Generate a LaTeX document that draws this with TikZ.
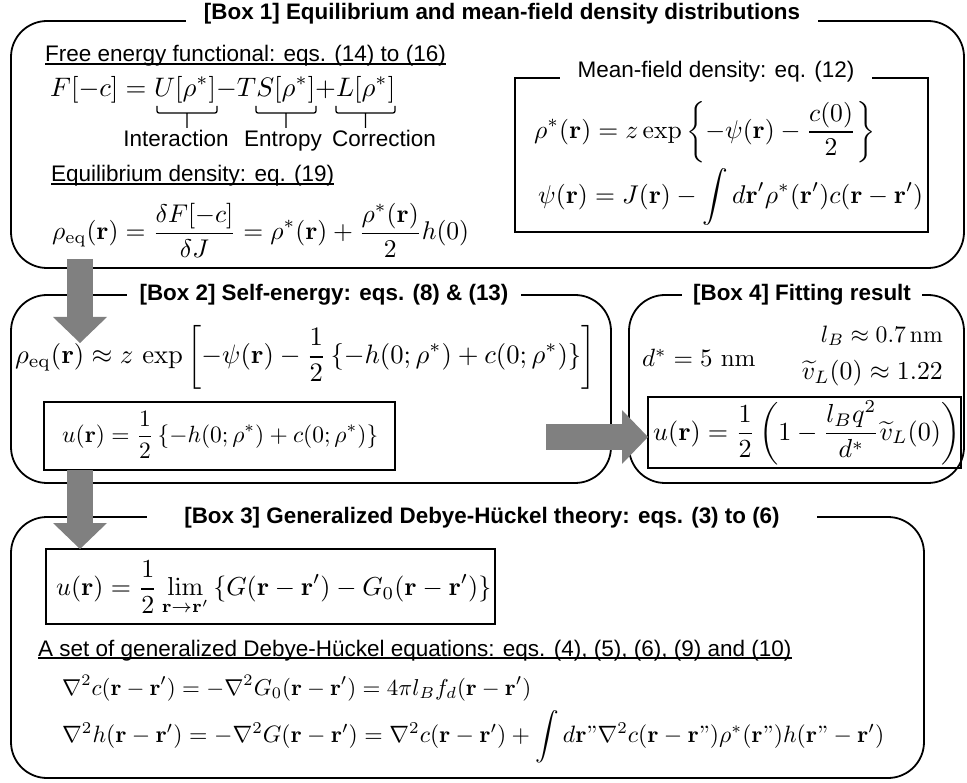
\documentclass[tikz,border=0pt]{standalone}
\usepackage[no-math]{fontspec}
\usepackage{amsmath}
\usepackage{graphicx}
\newfontfamily\arialfont{Liberation Sans}
\usetikzlibrary{arrows.meta}

\definecolor{arrowgray}{RGB}{128,128,128}

% equation scaled to the width it has in the figure
\newcommand{\eqfit}[2]{\resizebox{#1}{!}{$\displaystyle #2$}}
\newcommand{\rv}{\mathbf{r}}

\tikzset{
  panel/.style={draw=black, line width=1.8pt, rounded corners=36pt},
  subpanel/.style={draw=black, line width=1.4pt},
  paneltitle/.style={fill=white, inner ysep=3pt, anchor=base,
    font=\arialfont\bfseries\fontsize{22.4}{26}\selectfont},
  plaintext/.style={inner sep=0pt, font=\arialfont\fontsize{22.5}{26}\selectfont},
  eqn/.style={inner sep=0pt},
  uline/.style={line width=1.1pt},
  termbrace/.style={line width=1.3pt, rounded corners=2pt},
  bigarrow/.style={draw=arrowgray, line width=26pt,
    -{Triangle[width=54pt, length=26pt, line width=0pt]}},
}

\begin{document}
\begin{tikzpicture}[x=1pt, y=-1pt]

  \useasboundingbox (0,0) rectangle (967,783);

  % Panels
  \draw[panel] (11,21) rectangle (964,268);
  \draw[panel] (11,295) rectangle (611,483);
  \draw[panel] (629,295) rectangle (964,483);
  \draw[panel] (11,517) rectangle (924,778);

  % Inner frames
  \draw[subpanel] (515,78) rectangle (928,232);
  \draw[subpanel] (44,402) rectangle (395,470);
  \draw[subpanel] (648,397) rectangle (961,468);
  \draw[subpanel] (46,549) rectangle (495,624);

  % Panel titles
  \node[paneltitle, inner xsep=18pt] (title1) at (502,20)
    {[Box 1] Equilibrium and mean-field density distributions};
  \node[paneltitle, inner xsep=13pt] (title2) at (324,301)
    {[Box 2] Self-energy: eqs. (8) \& (13)};
  \node[paneltitle, inner xsep=11pt] (title4) at (802,301)
    {[Box 4] Fitting result};
  \node[paneltitle, inner xsep=37pt] (title3) at (482,523)
    {[Box 3] Generalized Debye-Hückel theory: eqs. (3) to (6)};
  \node[paneltitle, font=\arialfont\fontsize{22.5}{26}\selectfont, inner xsep=18pt]
    (meantitle) at (716,78) {Mean-field density: eq. (12)};

  % Box 1
  \node[plaintext, anchor=base west] (freelbl) at (45,62)
    {Free energy functional: eqs. (14) to (16)};
  \draw[uline] ([yshift=-2pt]freelbl.base west) -- ([yshift=-2pt]freelbl.base east);
  \node[eqn, anchor=base west] (freeeq) at (50,97)
    {\eqfit{345pt}{F[-c] = U[\rho^*]{-}TS[\rho^*]{+}L[\rho^*]}};
  \foreach \a/\b in {157/217, 256/316, 336/395}
    \draw[termbrace] (\a,106) -- (\a,113) -- (\b,113) -- (\b,106)
      ({(\a+\b)/2},113) -- ({(\a+\b)/2},128);
  \node[plaintext, anchor=base] (interact) at (176,147) {Interaction};
  \node[plaintext, anchor=base] (entropy) at (283,147) {Entropy};
  \node[plaintext, anchor=base] (correct) at (384,147) {Correction};

  \node[plaintext, anchor=base west] (eqlbl) at (51,182)
    {Equilibrium density: eq. (19)};
  \draw[uline] ([yshift=-2pt]eqlbl.base west) -- ([yshift=-2pt]eqlbl.base east);
  \node[eqn, anchor=west] (rhoeq) at (52,230)
    {\eqfit{417pt}{\rho_{\mathrm{eq}}(\rv) = \frac{\delta F[-c]}{\delta J}
      = \rho^*(\rv) + \frac{\rho^*(\rv)}{2}h(0)}};

  \node[eqn, anchor=west] (rhostar) at (534,132)
    {\eqfit{341pt}{\rho^*(\rv) = z\exp\left\{-\psi(\rv) - \frac{c(0)}{2}\right\}}};
  \node[eqn, anchor=west] (psieq) at (538,197)
    {\eqfit{385pt}{\psi(\rv) = J(\rv) - \int d\rv'\rho^*(\rv')c(\rv-\rv')}};

  % Box 2
  \node[eqn, anchor=west] (rhoapprox) at (15,357)
    {\eqfit{580pt}{\rho_{\mathrm{eq}}(\rv) \approx z\,\exp\left[-\psi(\rv)
      - \frac{1}{2}\left\{-h(0;\rho^*) + c(0;\rho^*)\right\}\right]}};
  \node[eqn, anchor=west] (selfu) at (62,435)
    {\eqfit{316pt}{u(\rv) = \frac{1}{2}\left\{-h(0;\rho^*) + c(0;\rho^*)\right\}}};

  % Box 4
  \node[eqn, anchor=west] (dstar) at (642,358) {\scalebox{2.5}{$d^* = 5\ \mathrm{nm}$}};
  \node[eqn, anchor=east] (lbjerrum) at (943,336) {\eqfit{122pt}{l_B \approx 0.7\,\mathrm{nm}}};
  \node[eqn, anchor=east] (vtilde) at (943,373) {\eqfit{141pt}{\widetilde{v}_L(0) \approx 1.22}};
  \node[eqn, anchor=west] (fitu) at (653,433)
    {\eqfit{307pt}{u(\rv) = \frac{1}{2}\left(1 - \frac{l_B q^2}{d^*}\widetilde{v}_L(0)\right)}};

  % Box 3
  \node[eqn, anchor=west] (limu) at (56,588)
    {\eqfit{435pt}{u(\rv) = \frac{1}{2}\lim_{\rv\to\rv'}\left\{G(\rv-\rv') - G_0(\rv-\rv')\right\}}};
  \node[plaintext, anchor=base west] (dhlbl) at (38,656)
    {A set of generalized Debye-Hückel equations: eqs. (4), (5), (6), (9) and (10)};
  \draw[uline] ([yshift=-2pt]dhlbl.base west) -- ([yshift=-2pt]dhlbl.base east);
  \node[eqn, anchor=west] (dhc) at (62,688)
    {\eqfit{469pt}{\nabla^2 c(\rv-\rv') = -\nabla^2 G_0(\rv-\rv') = 4\pi l_B f_d(\rv-\rv')}};
  \node[eqn, anchor=west] (dhh) at (62,737)
    {\eqfit{822pt}{\nabla^2 h(\rv-\rv') = -\nabla^2 G(\rv-\rv') = \nabla^2 c(\rv-\rv')
      + \int d\rv\textrm{''}\nabla^2 c(\rv-\rv\textrm{''})\rho^*(\rv\textrm{''})h(\rv\textrm{''}-\rv')}};

  % Arrows
  \coordinate (a1s) at (80,259);
  \coordinate (a1e) at (80,343);
  \coordinate (a2s) at (80,470);
  \coordinate (a2e) at (80,549);
  \coordinate (a3s) at (546,437);
  \coordinate (a3e) at (648,437);
  \draw[bigarrow] (a1s) -- (a1e);
  \draw[bigarrow] (a2s) -- (a2e);
  \draw[bigarrow] (a3s) -- (a3e);

\end{tikzpicture}
\end{document}
